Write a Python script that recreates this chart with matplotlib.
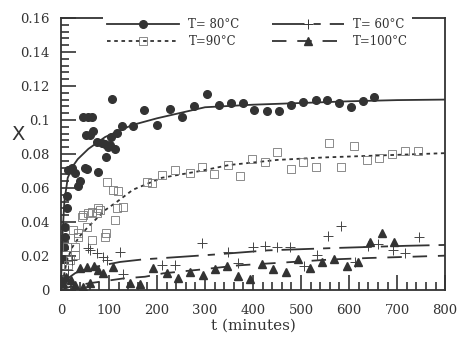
import matplotlib
matplotlib.use("Agg")
import matplotlib.pyplot as plt
from matplotlib.ticker import MultipleLocator, FuncFormatter
from matplotlib.lines import Line2D

t80 = [2, 4, 6, 8, 8, 12, 12, 14, 23, 29, 35, 40, 46, 50, 52, 54, 56, 60, 65, 67,
       75, 77, 85, 92, 94, 98, 102, 104, 106, 112, 117, 127, 150, 173, 200, 227,
       252, 277, 305, 330, 354, 379, 402, 429, 454, 479, 504, 531, 554, 579, 604,
       629, 652]
x80 = [0.005, 0.018, 0.025, 0.031, 0.037, 0.048, 0.055, 0.0705, 0.072, 0.069,
       0.061, 0.064, 0.102, 0.072, 0.091, 0.071, 0.102, 0.091, 0.102, 0.0935,
       0.087, 0.0695, 0.0865, 0.086, 0.078, 0.084, 0.085, 0.090, 0.1124, 0.083,
       0.0925, 0.0965, 0.0965, 0.106, 0.097, 0.1065, 0.102, 0.108, 0.115, 0.109,
       0.110, 0.110, 0.106, 0.105, 0.105, 0.109, 0.1105, 0.112, 0.112, 0.110,
       0.1075, 0.111, 0.1135]

t90 = [12, 15, 19, 25, 29, 29, 35, 36, 44, 46, 54, 56, 64, 64, 75, 77, 81, 92,
       94, 96, 108, 113, 116, 119, 129, 179, 189, 210, 237, 269, 293, 319, 348,
       373, 398, 425, 450, 479, 504, 531, 558, 583, 610, 638, 663, 690, 716, 744]
x90 = [0.025, 0.0147, 0.0176, 0.035, 0.025, 0.0205, 0.031, 0.0335, 0.043, 0.044,
       0.037, 0.045, 0.046, 0.0295, 0.045, 0.048, 0.047, 0.031, 0.0335, 0.0635,
       0.059, 0.041, 0.048, 0.058, 0.049, 0.0635, 0.063, 0.0675, 0.0705, 0.069,
       0.0725, 0.068, 0.0735, 0.067, 0.077, 0.0755, 0.081, 0.071, 0.0755, 0.0725,
       0.0865, 0.0725, 0.0847, 0.0765, 0.0775, 0.080, 0.082, 0.082]

t60 = [8, 15, 23, 56, 60, 75, 88, 96, 123, 129, 210, 237, 294, 348, 369, 400, 425,
       450, 477, 506, 533, 556, 583, 612, 640, 660, 692, 717, 746]
x60 = [0.005, 0.0118, 0.0176, 0.0247, 0.0235, 0.0218, 0.0194, 0.0176, 0.0224,
       0.0094, 0.0147, 0.0147, 0.0276, 0.0224, 0.016, 0.0253, 0.026, 0.0253,
       0.0253, 0.014, 0.0206, 0.032, 0.0376, 0.0165, 0.026, 0.027, 0.0235,
       0.0218, 0.031]

t100 = [5, 10, 20, 30, 40, 45, 54, 60, 69, 77, 88, 108, 144, 165, 192, 221, 244,
        269, 296, 321, 346, 369, 394, 419, 442, 469, 494, 519, 544, 569, 595, 619,
        643, 669, 694]
x100 = [0.004, 0.0076, 0.006, 0.003, 0.013, 0.002, 0.0135, 0.004, 0.014, 0.012,
        0.010, 0.0135, 0.004, 0.0035, 0.013, 0.010, 0.007, 0.0106, 0.009, 0.0124,
        0.014, 0.008, 0.0065, 0.0155, 0.0125, 0.0103, 0.018, 0.013, 0.0165,
        0.0185, 0.014, 0.0165, 0.028, 0.0335, 0.028]

# fitted curves
ft80 = [0, 1, 3, 7, 14, 25, 35, 57, 92, 148, 200, 300, 400, 500, 600, 700, 800]
fx80 = [0, 0.015, 0.032, 0.052, 0.066, 0.073, 0.077, 0.083, 0.090, 0.097, 0.101,
        0.1075, 0.109, 0.110, 0.111, 0.1117, 0.112]
ft90 = [0, 5, 12, 23, 40, 56, 92, 117, 150, 210, 290, 350, 450, 550, 700, 800]
fx90 = [0, 0.007, 0.017, 0.025, 0.032, 0.037, 0.047, 0.052, 0.059, 0.066, 0.070,
        0.0735, 0.0765, 0.078, 0.0795, 0.0805]
ft60 = [0, 10, 30, 60, 123, 171, 250, 317, 430, 570, 720, 800]
fx60 = [0, 0.006, 0.010, 0.013, 0.0165, 0.018, 0.0195, 0.0208, 0.0233, 0.0247,
        0.026, 0.0265]
ft100 = [0, 20, 60, 130, 175, 213, 290, 370, 500, 566, 640, 780, 800]
fx100 = [0, 0.002, 0.004, 0.0068, 0.0078, 0.0098, 0.012, 0.0145, 0.0168, 0.018,
         0.0188, 0.020, 0.0202]

ink = "#333333"
plt.rcParams["font.family"] = ["DejaVu Serif"]

fig = plt.figure(figsize=(4.57, 3.37), dpi=100)
ax = fig.add_axes([0.1335, 0.1395, 0.8405, 0.8071])

ax.plot(ft80, fx80, "-", color=ink, lw=1.3)
ax.plot(ft90, fx90, color=ink, lw=1.3, ls=(0, (2, 2)))
ax.plot(ft60, fx60, color=ink, lw=1.3, ls=(0, (18, 5, 4, 5)))
ax.plot(ft100, fx100, color=ink, lw=1.3, ls=(0, (8, 6)))

ax.plot(t80, x80, "o", color=ink, ms=5.5, mec=ink)
ax.plot(t90, x90, "s", mfc="none", mec="#777777", ms=6, mew=0.6)
ax.plot(t60, x60, "+", color="#444444", ms=7, mew=0.7)
ax.plot(t100, x100, "^", color=ink, ms=5.5)

ax.set_xlim(0, 800)
ax.set_ylim(0, 0.16)
ax.xaxis.set_major_locator(MultipleLocator(100))
ax.xaxis.set_minor_locator(MultipleLocator(20))
ax.yaxis.set_major_locator(MultipleLocator(0.02))
ax.yaxis.set_minor_locator(MultipleLocator(0.004))
ax.yaxis.set_major_formatter(FuncFormatter(lambda v, p: "%g" % round(v, 3)))
ax.tick_params(which="both", direction="in", top=False, right=False,
               color=ink, width=1.2, labelcolor=ink, labelsize=9.5)
ax.tick_params(which="major", length=11)
ax.tick_params(which="minor", length=6)
ax.tick_params(axis="y", pad=8)
ax.tick_params(axis="x", pad=10)
for s in ax.spines.values():
    s.set_color(ink)
    s.set_linewidth(1.3)

ax.set_xlabel("t (minutes)", fontsize=11, color=ink, labelpad=1)
ax.set_ylabel("X", rotation=0, fontsize=14, color=ink, family="DejaVu Sans",
              va="center", ha="center")
ax.yaxis.set_label_coords(-0.112, 0.57)

handles = [
    Line2D([], [], color=ink, lw=1.3, marker="o", ms=5.5),
    Line2D([], [], color=ink, lw=1.3, ls=(0, (2, 2)), marker="s", mfc="none",
           mec="#777777", ms=6, mew=0.6),
    Line2D([], [], color=ink, lw=1.3, ls=(0, (18, 5, 4, 5)), marker="+", ms=7,
           mew=0.7),
    Line2D([], [], color=ink, lw=1.3, ls=(0, (8, 6)), marker="^", ms=5.5),
]
labels = ["T= 80°C", "T=90°C", "T= 60°C", "T=100°C"]
leg = ax.legend(handles, labels, ncol=2, loc="upper left",
                bbox_to_anchor=(0.095, 1.035), fontsize=8.5, handlelength=6.1,
                handletextpad=0.8, columnspacing=2.7, labelspacing=0.35,
                frameon=True, fancybox=False, borderpad=0.3, numpoints=1)
leg.get_frame().set_facecolor("white")
leg.get_frame().set_edgecolor("none")
leg.get_frame().set_alpha(1)
for txt in leg.get_texts():
    txt.set_color(ink)

fig.savefig("out.png", dpi=100)
